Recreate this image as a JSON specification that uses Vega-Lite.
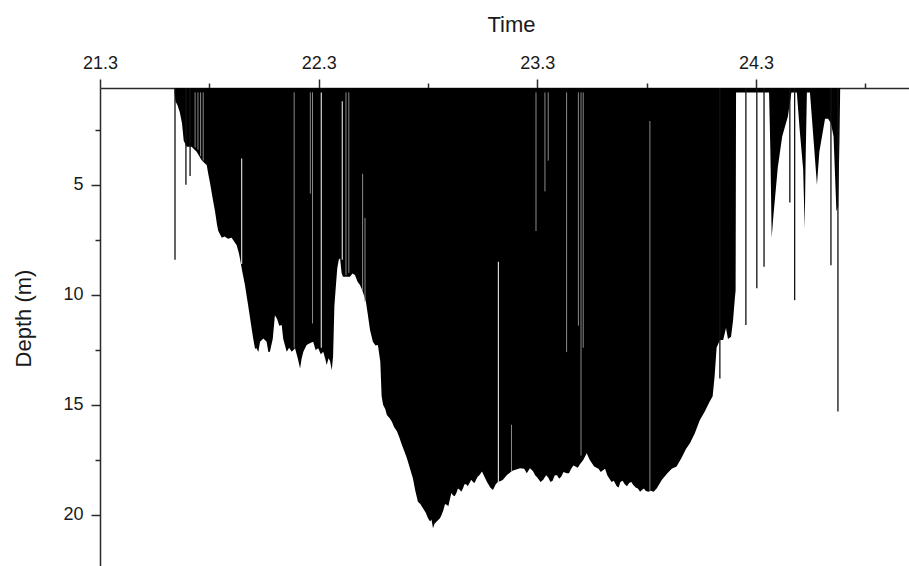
{
  "$schema": "https://vega.github.io/schema/vega-lite/v6.json",
  "width": 809,
  "height": 482,
  "autosize": "none",
  "padding": {"left": 100, "top": 88, "right": 0, "bottom": 0},
  "background": "white",
  "config": {
    "view": {"stroke": null},
    "axis": {
      "labelFont": "Liberation Sans",
      "titleFont": "Liberation Sans",
      "labelFontSize": 18,
      "titleFontSize": 22,
      "titleFontWeight": "normal",
      "labelColor": "#1a1a1a",
      "titleColor": "#1a1a1a",
      "domainColor": "#2a2a2a",
      "tickColor": "#2a2a2a",
      "domainWidth": 1.5,
      "tickWidth": 1.5,
      "grid": false
    }
  },
  "datasets": {
    "profile": [
      {"time": 21.641, "depth": 0.8}, {"time": 21.645, "depth": 1.2}, {"time": 21.655, "depth": 1.4}, {"time": 21.665, "depth": 1.7},
      {"time": 21.675, "depth": 2.2}, {"time": 21.683, "depth": 3.0}, {"time": 21.696, "depth": 3.27}, {"time": 21.719, "depth": 3.27},
      {"time": 21.742, "depth": 3.5}, {"time": 21.765, "depth": 3.88}, {"time": 21.780, "depth": 4.03}, {"time": 21.788, "depth": 4.1},
      {"time": 21.795, "depth": 4.5}, {"time": 21.803, "depth": 4.9}, {"time": 21.815, "depth": 5.6}, {"time": 21.826, "depth": 6.2},
      {"time": 21.835, "depth": 6.8}, {"time": 21.841, "depth": 7.1}, {"time": 21.857, "depth": 7.4}, {"time": 21.870, "depth": 7.35},
      {"time": 21.885, "depth": 7.45}, {"time": 21.902, "depth": 7.4}, {"time": 21.915, "depth": 7.6}, {"time": 21.925, "depth": 7.75},
      {"time": 21.935, "depth": 8.1}, {"time": 21.940, "depth": 8.35}, {"time": 21.950, "depth": 8.9}, {"time": 21.963, "depth": 9.55},
      {"time": 21.970, "depth": 10.0}, {"time": 21.978, "depth": 10.5}, {"time": 21.990, "depth": 11.3}, {"time": 22.001, "depth": 12.0},
      {"time": 22.009, "depth": 12.45}, {"time": 22.016, "depth": 12.43}, {"time": 22.024, "depth": 12.6}, {"time": 22.032, "depth": 12.13},
      {"time": 22.047, "depth": 11.98}, {"time": 22.062, "depth": 12.13}, {"time": 22.070, "depth": 12.6}, {"time": 22.077, "depth": 12.58},
      {"time": 22.090, "depth": 12.0}, {"time": 22.100, "depth": 10.92}, {"time": 22.110, "depth": 11.1}, {"time": 22.120, "depth": 11.4},
      {"time": 22.131, "depth": 11.37}, {"time": 22.138, "depth": 12.0}, {"time": 22.154, "depth": 12.58}, {"time": 22.165, "depth": 12.4},
      {"time": 22.177, "depth": 12.58}, {"time": 22.192, "depth": 12.43}, {"time": 22.205, "depth": 12.9}, {"time": 22.215, "depth": 13.34},
      {"time": 22.222, "depth": 12.9}, {"time": 22.230, "depth": 12.58}, {"time": 22.245, "depth": 12.28}, {"time": 22.260, "depth": 12.2},
      {"time": 22.275, "depth": 12.13}, {"time": 22.286, "depth": 12.5}, {"time": 22.298, "depth": 12.43}, {"time": 22.310, "depth": 12.7},
      {"time": 22.321, "depth": 12.58}, {"time": 22.330, "depth": 12.9}, {"time": 22.337, "depth": 13.19}, {"time": 22.345, "depth": 12.88},
      {"time": 22.352, "depth": 13.0}, {"time": 22.360, "depth": 13.42}, {"time": 22.366, "depth": 12.8}, {"time": 22.372, "depth": 10.5},
      {"time": 22.378, "depth": 9.7}, {"time": 22.385, "depth": 8.8}, {"time": 22.392, "depth": 8.4}, {"time": 22.398, "depth": 8.34},
      {"time": 22.405, "depth": 9.0}, {"time": 22.411, "depth": 9.18}, {"time": 22.430, "depth": 9.18}, {"time": 22.443, "depth": 9.18},
      {"time": 22.455, "depth": 9.03}, {"time": 22.466, "depth": 9.1}, {"time": 22.478, "depth": 9.4}, {"time": 22.489, "depth": 9.55},
      {"time": 22.500, "depth": 9.8}, {"time": 22.516, "depth": 10.3}, {"time": 22.525, "depth": 10.9}, {"time": 22.535, "depth": 11.6},
      {"time": 22.548, "depth": 12.13}, {"time": 22.560, "depth": 12.3}, {"time": 22.571, "depth": 12.28}, {"time": 22.577, "depth": 12.7},
      {"time": 22.582, "depth": 13.04}, {"time": 22.588, "depth": 14.6}, {"time": 22.595, "depth": 15.0}, {"time": 22.605, "depth": 15.2},
      {"time": 22.612, "depth": 15.46}, {"time": 22.625, "depth": 15.6}, {"time": 22.635, "depth": 15.76}, {"time": 22.645, "depth": 16.0},
      {"time": 22.658, "depth": 16.2}, {"time": 22.670, "depth": 16.5}, {"time": 22.680, "depth": 16.8}, {"time": 22.692, "depth": 17.1},
      {"time": 22.704, "depth": 17.43}, {"time": 22.718, "depth": 17.9}, {"time": 22.731, "depth": 18.33}, {"time": 22.742, "depth": 18.9},
      {"time": 22.754, "depth": 19.4}, {"time": 22.765, "depth": 19.5}, {"time": 22.777, "depth": 19.7}, {"time": 22.790, "depth": 19.9},
      {"time": 22.800, "depth": 20.15}, {"time": 22.810, "depth": 20.3}, {"time": 22.816, "depth": 20.2}, {"time": 22.823, "depth": 20.6},
      {"time": 22.830, "depth": 20.4}, {"time": 22.840, "depth": 20.3}, {"time": 22.855, "depth": 20.15}, {"time": 22.862, "depth": 20.0},
      {"time": 22.870, "depth": 19.8}, {"time": 22.878, "depth": 19.5}, {"time": 22.887, "depth": 19.55}, {"time": 22.893, "depth": 19.6},
      {"time": 22.900, "depth": 19.3}, {"time": 22.907, "depth": 19.0}, {"time": 22.914, "depth": 19.1}, {"time": 22.922, "depth": 19.15},
      {"time": 22.930, "depth": 19.0}, {"time": 22.937, "depth": 18.8}, {"time": 22.945, "depth": 18.85}, {"time": 22.952, "depth": 18.95},
      {"time": 22.960, "depth": 18.8}, {"time": 22.967, "depth": 18.6}, {"time": 22.975, "depth": 18.6}, {"time": 22.982, "depth": 18.7},
      {"time": 22.990, "depth": 18.55}, {"time": 22.998, "depth": 18.4}, {"time": 23.006, "depth": 18.5}, {"time": 23.013, "depth": 18.55},
      {"time": 23.020, "depth": 18.4}, {"time": 23.028, "depth": 18.25}, {"time": 23.035, "depth": 18.2}, {"time": 23.047, "depth": 18.03},
      {"time": 23.060, "depth": 18.3}, {"time": 23.070, "depth": 18.5}, {"time": 23.085, "depth": 18.75}, {"time": 23.097, "depth": 18.87},
      {"time": 23.110, "depth": 18.6}, {"time": 23.120, "depth": 18.5}, {"time": 23.135, "depth": 18.45}, {"time": 23.143, "depth": 18.4},
      {"time": 23.160, "depth": 18.2}, {"time": 23.184, "depth": 18.0}, {"time": 23.200, "depth": 17.95}, {"time": 23.221, "depth": 17.88},
      {"time": 23.240, "depth": 17.9}, {"time": 23.252, "depth": 18.1}, {"time": 23.266, "depth": 17.88}, {"time": 23.280, "depth": 18.0},
      {"time": 23.290, "depth": 18.2}, {"time": 23.300, "depth": 18.3}, {"time": 23.315, "depth": 18.5}, {"time": 23.327, "depth": 18.4},
      {"time": 23.340, "depth": 18.2}, {"time": 23.350, "depth": 18.3}, {"time": 23.360, "depth": 18.5}, {"time": 23.370, "depth": 18.45},
      {"time": 23.380, "depth": 18.2}, {"time": 23.390, "depth": 18.2}, {"time": 23.400, "depth": 18.35}, {"time": 23.410, "depth": 18.25},
      {"time": 23.420, "depth": 18.05}, {"time": 23.434, "depth": 18.1}, {"time": 23.445, "depth": 18.1}, {"time": 23.455, "depth": 17.9},
      {"time": 23.465, "depth": 17.75}, {"time": 23.475, "depth": 17.8}, {"time": 23.485, "depth": 17.85}, {"time": 23.495, "depth": 17.7},
      {"time": 23.510, "depth": 17.5}, {"time": 23.526, "depth": 17.2}, {"time": 23.540, "depth": 17.5}, {"time": 23.560, "depth": 17.8},
      {"time": 23.580, "depth": 17.9}, {"time": 23.590, "depth": 18.05}, {"time": 23.602, "depth": 17.96}, {"time": 23.610, "depth": 17.9},
      {"time": 23.620, "depth": 18.2}, {"time": 23.630, "depth": 18.35}, {"time": 23.640, "depth": 18.5}, {"time": 23.650, "depth": 18.45},
      {"time": 23.663, "depth": 18.7}, {"time": 23.672, "depth": 18.75}, {"time": 23.680, "depth": 18.5}, {"time": 23.690, "depth": 18.45},
      {"time": 23.700, "depth": 18.6}, {"time": 23.710, "depth": 18.7}, {"time": 23.720, "depth": 18.55}, {"time": 23.730, "depth": 18.5},
      {"time": 23.739, "depth": 18.64}, {"time": 23.750, "depth": 18.75}, {"time": 23.760, "depth": 18.8}, {"time": 23.770, "depth": 18.95},
      {"time": 23.780, "depth": 18.85}, {"time": 23.788, "depth": 18.8}, {"time": 23.795, "depth": 18.9}, {"time": 23.807, "depth": 18.94},
      {"time": 23.820, "depth": 18.9}, {"time": 23.832, "depth": 18.95}, {"time": 23.846, "depth": 18.8}, {"time": 23.870, "depth": 18.4},
      {"time": 23.895, "depth": 18.1}, {"time": 23.915, "depth": 17.9}, {"time": 23.937, "depth": 17.8}, {"time": 23.960, "depth": 17.4},
      {"time": 23.980, "depth": 17.0}, {"time": 23.998, "depth": 16.74}, {"time": 24.020, "depth": 16.3}, {"time": 24.043, "depth": 15.7},
      {"time": 24.066, "depth": 15.3}, {"time": 24.088, "depth": 14.85}, {"time": 24.102, "depth": 14.6}, {"time": 24.111, "depth": 13.7},
      {"time": 24.120, "depth": 12.4}, {"time": 24.135, "depth": 12.05}, {"time": 24.150, "depth": 12.05}, {"time": 24.163, "depth": 11.5},
      {"time": 24.172, "depth": 12.0}, {"time": 24.186, "depth": 11.9}, {"time": 24.195, "depth": 11.2}, {"time": 24.204, "depth": 10.1},
      {"time": 24.207, "depth": 9.8}, {"time": 24.209, "depth": 0.8}, {"time": 24.360, "depth": 0.8}, {"time": 24.366, "depth": 3.5},
      {"time": 24.372, "depth": 7.4}, {"time": 24.379, "depth": 6.5}, {"time": 24.400, "depth": 4.2}, {"time": 24.420, "depth": 2.8},
      {"time": 24.446, "depth": 1.9}, {"time": 24.462, "depth": 0.8}, {"time": 24.487, "depth": 0.8}, {"time": 24.500, "depth": 2.5},
      {"time": 24.516, "depth": 4.3}, {"time": 24.523, "depth": 7.0}, {"time": 24.527, "depth": 4.0}, {"time": 24.533, "depth": 0.8},
      {"time": 24.547, "depth": 0.8}, {"time": 24.560, "depth": 2.5}, {"time": 24.579, "depth": 5.0}, {"time": 24.590, "depth": 3.5},
      {"time": 24.616, "depth": 2.0}, {"time": 24.630, "depth": 2.0}, {"time": 24.643, "depth": 2.2}, {"time": 24.655, "depth": 2.8},
      {"time": 24.668, "depth": 6.2}, {"time": 24.676, "depth": 6.0}, {"time": 24.682, "depth": 3.0}, {"time": 24.685, "depth": 0.8}
    ],
    "spikes": [
      {"time": 21.643, "depth": 8.4}, {"time": 21.693, "depth": 5.0}, {"time": 21.712, "depth": 4.6},
      {"time": 24.135, "depth": 13.8},
      {"time": 24.254, "depth": 11.37}, {"time": 24.304, "depth": 9.7}, {"time": 24.337, "depth": 8.72},
      {"time": 24.455, "depth": 5.8}, {"time": 24.477, "depth": 10.24}, {"time": 24.643, "depth": 8.65},
      {"time": 24.675, "depth": 15.3}
    ],
    "grayGaps": [
      {"time": 21.735, "from": 0.8, "to": 3.3}, {"time": 21.748, "from": 0.8, "to": 3.4},
      {"time": 21.760, "from": 0.8, "to": 3.7}, {"time": 21.772, "from": 0.8, "to": 3.9},
      {"time": 22.188, "from": 0.8, "to": 12.4},
      {"time": 22.262, "from": 0.8, "to": 5.4}, {"time": 22.272, "from": 0.8, "to": 11.3},
      {"time": 22.425, "from": 0.8, "to": 9.1}, {"time": 22.438, "from": 0.8, "to": 9.0},
      {"time": 22.501, "from": 4.5, "to": 9.8}, {"time": 22.512, "from": 6.5, "to": 10.3},
      {"time": 23.182, "from": 15.9, "to": 18.0},
      {"time": 23.294, "from": 0.8, "to": 7.1}, {"time": 23.335, "from": 0.8, "to": 5.3},
      {"time": 23.350, "from": 0.8, "to": 3.9}, {"time": 23.434, "from": 0.8, "to": 12.6},
      {"time": 23.488, "from": 0.8, "to": 11.4}, {"time": 23.500, "from": 0.8, "to": 17.3},
      {"time": 23.510, "from": 0.8, "to": 12.4}, {"time": 23.815, "from": 2.1, "to": 18.9}
    ],
    "clearGaps": [
      {"time": 21.948, "from": 3.8, "to": 8.6},
      {"time": 22.312, "from": 0.8, "to": 12.4},
      {"time": 22.408, "from": 1.2, "to": 8.4},
      {"time": 23.122, "from": 8.5, "to": 18.6}
    ]
  },
  "resolve": {"axis": {"x": "independent", "y": "independent"}},
  "layer": [
    {
      "data": {"name": "profile"},
      "mark": {"type": "area", "color": "black", "interpolate": "linear"},
      "encoding": {
        "x": {
          "field": "time", "type": "quantitative",
          "scale": {"domain": [21.3, 25.0], "nice": false, "zero": false},
          "axis": {
            "orient": "top", "title": "Time", "values": [21.3, 22.3, 23.3, 24.3],
            "format": ".1f", "tickSize": 9, "labelPadding": 7,
            "titleX": 411, "titleY": -57, "titleBaseline": "alphabetic",
            "labelFlush": false, "labelOverlap": false
          }
        },
        "y": {
          "field": "depth", "type": "quantitative",
          "scale": {"domain": [0.6, 22.5], "reverse": true, "nice": false, "zero": false},
          "axis": {
            "orient": "left", "title": "Depth (m)", "values": [5, 10, 15, 20],
            "tickSize": 9, "labelPadding": 8,
            "titleX": -70, "titleY": 230, "titleBaseline": "alphabetic", "titleAngle": -90,
            "labelFlush": false, "labelOverlap": false
          }
        },
        "y2": {"datum": 0.6}
      }
    },
    {
      "data": {"name": "grayGaps"},
      "mark": {"type": "rule", "color": "#8a8a8a", "strokeWidth": 1},
      "encoding": {
        "x": {"field": "time", "type": "quantitative", "axis": null},
        "y": {"field": "from", "type": "quantitative", "axis": null},
        "y2": {"field": "to"}
      }
    },
    {
      "data": {"name": "clearGaps"},
      "mark": {"type": "rule", "color": "#e8e8e8", "strokeWidth": 1.1},
      "encoding": {
        "x": {"field": "time", "type": "quantitative", "axis": null},
        "y": {"field": "from", "type": "quantitative", "axis": null},
        "y2": {"field": "to"}
      }
    },
    {
      "data": {"name": "spikes"},
      "mark": {"type": "rule", "color": "#111111", "strokeWidth": 1.3},
      "encoding": {
        "x": {
          "field": "time", "type": "quantitative",
          "axis": {"orient": "top", "title": null, "values": [21.8, 22.8, 23.8, 24.8], "labels": false, "domain": false, "tickSize": 5}
        },
        "y": {
          "field": "depth", "type": "quantitative",
          "axis": {"orient": "left", "title": null, "values": [2.5, 7.5, 12.5, 17.5], "labels": false, "domain": false, "tickSize": 5}
        },
        "y2": {"datum": 0.6}
      }
    }
  ]
}
